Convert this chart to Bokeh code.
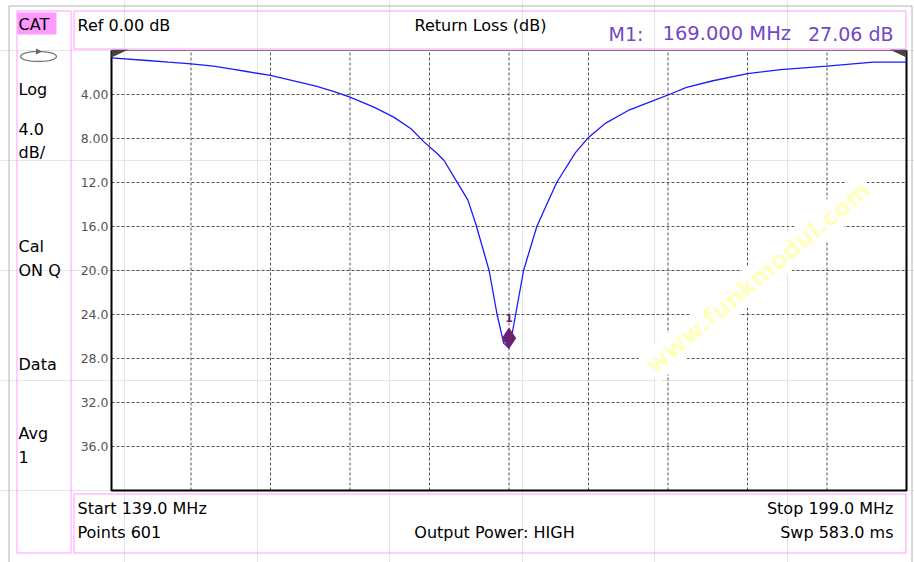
import numpy as np
from bokeh.plotting import figure
from bokeh.models import Range1d, Label, BoxAnnotation, PolyAnnotation
from bokeh.core.properties import value
from bokeh.embed import file_html
from bokeh.resources import INLINE

freq_mhz = [139.0, 141.7, 143.3, 145.0, 146.7, 148.0, 149.2, 151.0, 153.0, 154.5,
            155.8, 157.0, 158.8, 160.3, 161.6, 162.6, 163.6, 164.1, 165.0, 165.9,
            166.5, 167.5, 168.1, 168.6, 169.0, 169.2, 169.5, 170.1, 171.1, 172.0,
            172.6, 174.0, 175.0, 176.3, 178.0, 179.9, 181.1, 182.4, 184.4, 187.0,
            189.5, 193.0, 196.5, 199.0]
return_loss_db = [0.67, 0.91, 1.06, 1.21, 1.42, 1.67, 1.91, 2.27, 2.82, 3.27,
                  3.73, 4.24, 5.15, 6.06, 7.12, 8.33, 9.39, 10.0, 11.8, 13.6,
                  15.8, 20.0, 24.0, 26.6, 27.06, 26.0, 24.0, 20.0, 16.0, 13.6,
                  12.0, 9.3, 7.9, 6.6, 5.45, 4.55, 4.0, 3.36, 2.75, 2.1,
                  1.73, 1.42, 1.06, 1.05]
x_ticks = [139, 145, 151, 157, 163, 169, 175, 181, 187, 193, 199]
y_ticks = [4, 8, 12, 16, 20, 24, 28, 32, 36]
y_tick_labels = ["4.00", "8.00", "12.0", "16.0", "20.0", "24.0", "28.0", "32.0", "36.0"]
marker_freq = 169.0
marker_db = 27.06
start_mhz, stop_mhz = 139.0, 199.0
ref_db, bottom_db = 0.0, 40.0
sweep_points = 601
sweep_ms = 583.0
left_panel = ["Log", "4.0", "dB/", "Cal", "ON Q", "Data", "Avg", "1"]

FONT = "DejaVu Sans"
PINK = "#ff9cff"

W, H = 914, 562
# pixel box of the measurement grid on the canvas
PX_L, PX_R, PX_T, PX_B = 111.0, 906.0, 50.0, 490.0
SX = (PX_R - PX_L) / (stop_mhz - start_mhz)
SY = (PX_B - PX_T) / (bottom_db - ref_db)

def dx(px):
    return start_mhz + (px - PX_L) / SX
def dy(py):
    return ref_db + (py - PX_T) / SY

p = figure(width=W, height=H, output_backend="svg", toolbar_location=None,
           x_range=Range1d(dx(0), dx(W)), y_range=Range1d(dy(H), dy(0)),
           x_axis_location=None, y_axis_location=None,
           min_border=0, min_border_left=0, min_border_right=0,
           min_border_top=0, min_border_bottom=0)
p.outline_line_color = None
p.background_fill_color = "white"
p.border_fill_color = "white"

# dashed graticule
gx = x_ticks[1:-1]
p.segment(x0=gx, y0=[bottom_db] * len(gx), x1=gx, y1=[ref_db] * len(gx),
          line_color="#555555", line_dash="3 2", line_width=1)
p.segment(x0=[start_mhz] * len(y_ticks), y0=y_ticks, x1=[stop_mhz] * len(y_ticks), y1=y_ticks,
          line_color="#555555", line_dash="3 2", line_width=1)

# graticule border
p.segment(x0=[start_mhz], y0=[ref_db], x1=[stop_mhz], y1=[ref_db],
          line_color="#777777", line_width=1)
p.line([start_mhz, start_mhz, stop_mhz, stop_mhz], [ref_db, bottom_db, bottom_db, ref_db],
       line_color="black", line_width=2)

# scale labels
p.text(x=[start_mhz] * len(y_ticks), y=y_ticks, text=y_tick_labels, x_offset=-3,
       text_align="right", text_baseline="middle", text_font=value(FONT),
       text_font_size="12.5px", text_color="#555555")

# trace
p.line(freq_mhz, return_loss_db, line_color="#1a1aff", line_width=1.3)

# marker
marker_offset = 10 / SY
p.scatter([marker_freq], [marker_db - marker_offset], marker="diamond", size=20,
          fill_color="#6d1f70", line_color="#6d1f70")
p.text(x=[marker_freq], y=[marker_db], text=["1"], y_offset=-30, text_align="center",
       text_baseline="middle", text_font=value(FONT), text_font_size="11px",
       text_font_style="bold", text_color="#6d1f70")

# reference level triangles
p.add_layout(PolyAnnotation(xs=[dx(111), dx(128), dx(111)], ys=[dy(49), dy(49), dy(57)],
                            fill_color="#444444", fill_alpha=1, line_color=None))
p.add_layout(PolyAnnotation(xs=[dx(906), dx(889), dx(906)], ys=[dy(49), dy(49), dy(57)],
                            fill_color="#444444", fill_alpha=1, line_color=None))

# watermark
p.add_layout(Label(x=dx(758), y=dy(277), text="www.funkmodul.com", angle=40, angle_units="deg",
                   text_align="center", text_baseline="middle", text_font=FONT,
                   text_font_size="24px", text_font_style="bold", text_color="#ffffc0",
                   background_fill_color="white", padding=2))

# boxes
def box(l, r, t, b, line=PINK, fill=None):
    p.add_layout(BoxAnnotation(left=dx(l), right=dx(r), top=dy(t), bottom=dy(b),
                               fill_color=fill if fill else "white", fill_alpha=1 if fill else 0,
                               line_color=line if line else "white",
                               line_width=1, line_alpha=1 if line else 0))

box(8.5, 911.5, 5.5, 2000, line="#b4b4b4")
box(16.5, 70.5, 10.5, 552.5)
box(73.5, 905.5, 10.5, 48.5)
box(73.5, 905.5, 493.5, 552.5)
box(17, 56, 12, 34, line=None, fill="#ff99ff")

# ellipse icon
t = np.linspace(0, 2 * np.pi, 48)
p.add_layout(PolyAnnotation(xs=[float(v) for v in dx(38 + 18 * np.cos(t))],
                            ys=[float(v) for v in dy(56 + 5 * np.sin(t))],
                            fill_color="white", fill_alpha=0,
                            line_color="#7a7a7a", line_width=1.3, line_alpha=1))
p.add_layout(PolyAnnotation(xs=[dx(35.5), dx(41.5), dx(35.5)], ys=[dy(48), dy(51), dy(54)],
                            fill_color="#666666", fill_alpha=1, line_color=None))

def lab(px, py, text, align="left", size="16px", color="black"):
    p.add_layout(Label(x=dx(px), y=dy(py), text=text, text_align=align, text_baseline="middle",
                       text_font=FONT, text_font_size=size, text_color=color))

lab(18, 24, "CAT")
for txt, py in zip(left_panel, [89, 128, 152, 246, 270, 364, 433, 456]):
    lab(18, py, txt)

lab(77, 25, f"Ref {ref_db:.2f} dB")
lab(480, 25, "Return Loss (dB)", align="center")
M1C = "#7048c8"
lab(608, 33, "M1:", size="19px", color=M1C)
lab(662, 33, f"{marker_freq:.3f} MHz", size="19.5px", color=M1C)
lab(893, 33, f"{marker_db:.2f} dB", align="right", size="19px", color=M1C)

lab(77, 508, f"Start {start_mhz:.1f} MHz")
lab(77, 532, f"Points {sweep_points}")
lab(494, 532, "Output Power: HIGH", align="center")
lab(893, 508, f"Stop {stop_mhz:.1f} MHz", align="right")
lab(893, 532, f"Swp {sweep_ms:.1f} ms", align="right")

open("out.html", "w").write(file_html(p, INLINE))
